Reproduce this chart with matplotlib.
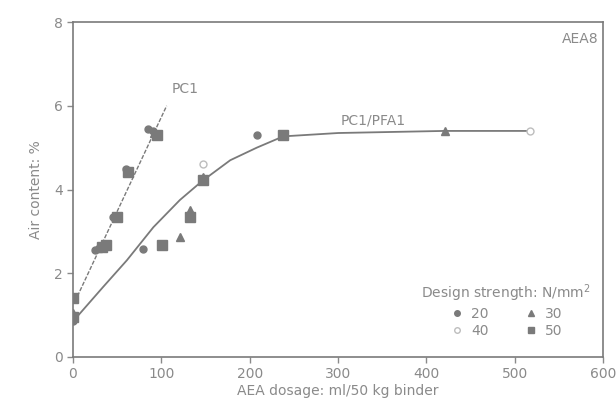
import matplotlib
matplotlib.use("Agg")
import matplotlib.pyplot as plt
from matplotlib.lines import Line2D

# ---- data ----
# PC1 series points (x: AEA dosage ml/50kg, y: air content %)
pc1_s20_x = [0, 25, 30, 45, 60, 85, 90]
pc1_s20_y = [0.85, 2.55, 2.6, 3.35, 4.5, 5.45, 5.4]
pc1_s30_x = [0, 28, 92]
pc1_s30_y = [1.05, 2.6, 5.35]
pc1_s50_x = [0, 33, 37, 50, 62, 95]
pc1_s50_y = [1.4, 2.62, 2.68, 3.35, 4.42, 5.3]
pc1_fit_x = [5, 106]
pc1_fit_y = [1.45, 6.0]

# PC1/PFA1 series points
pfa_s20_x = [0, 79, 208]
pfa_s20_y = [0.9, 2.58, 5.3]
pfa_s30_x = [121, 133, 147, 421]
pfa_s30_y = [2.86, 3.5, 4.3, 5.4]
pfa_s40_x = [147, 517]
pfa_s40_y = [4.6, 5.4]
pfa_s50_x = [0, 101, 133, 147, 238]
pfa_s50_y = [0.95, 2.67, 3.35, 4.22, 5.3]
pfa_fit_x = [0, 34, 61, 91, 121, 146, 178, 208, 238, 300, 420, 520]
pfa_fit_y = [0.85, 1.67, 2.31, 3.1, 3.75, 4.2, 4.7, 5.0, 5.27, 5.35, 5.4, 5.4]

x_ticks = [0, 100, 200, 300, 400, 500, 600]
y_ticks = [0, 2, 4, 6, 8]

legend_labels = ["20", "30", "40", "50"]

# ---- style ----
grey = "#7a7a7a"
light = "#bdbdbd"
txt = "#8a8a8a"

fig = plt.figure(figsize=(6.16, 4.17), dpi=100)
ax = fig.add_axes([0.1185, 0.144, 0.8605, 0.803])

ax.plot(pc1_fit_x, pc1_fit_y, color=grey, lw=1.0, ls=(0, (3, 1.2)), zorder=2)
ax.plot(pfa_fit_x, pfa_fit_y, color=grey, lw=1.3, zorder=2)

ms = dict(color=grey, ls="none", zorder=3)
ax.plot(pc1_s20_x, pc1_s20_y, marker="o", ms=5, **ms)
ax.plot(pc1_s30_x, pc1_s30_y, marker="^", ms=6, **ms)
ax.plot(pc1_s50_x, pc1_s50_y, marker="s", ms=6.5, **ms)
ax.plot(pfa_s20_x, pfa_s20_y, marker="o", ms=5, **ms)
ax.plot(pfa_s30_x, pfa_s30_y, marker="^", ms=6, **ms)
ax.plot(pfa_s50_x, pfa_s50_y, marker="s", ms=6.5, **ms)
ax.plot(pfa_s40_x, pfa_s40_y, marker="o", ms=5, ls="none", mfc="white",
        mec=light, mew=1.0, zorder=3)

ax.set_xlim(0, 600)
ax.set_ylim(0, 8)
ax.set_xticks(x_ticks)
ax.set_yticks(y_ticks)
ax.tick_params(colors=txt, labelsize=10, length=4, width=1, direction="out")
for sp in ax.spines.values():
    sp.set_color(grey)
    sp.set_linewidth(1.2)

ax.set_xlabel("AEA dosage: ml/50 kg binder", color=txt, fontsize=10, labelpad=2)
ax.set_ylabel("Air content: %", color=txt, fontsize=10, labelpad=8)

ax.text(112, 6.3, "PC1", color=txt, fontsize=10)
ax.text(303, 5.55, "PC1/PFA1", color=txt, fontsize=10)
ax.text(595, 7.5, "AEA8", color=txt, fontsize=10, ha="right")

handles = [
    Line2D([], [], marker="o", ms=4, color=grey, ls="none"),
    Line2D([], [], marker="^", ms=5, color=grey, ls="none"),
    Line2D([], [], marker="o", ms=4, ls="none", mfc="white", mec=light),
    Line2D([], [], marker="s", ms=5, color=grey, ls="none"),
]
# order so that columns read: 20,40 | 30,50
order = [0, 2, 1, 3]
leg = ax.legend([handles[i] for i in order], [legend_labels[i] for i in order],
                ncol=2, loc="lower right", bbox_to_anchor=(1.0, 0.02),
                title="Design strength: N/mm$^2$", frameon=False, fontsize=10,
                handletextpad=0.4, columnspacing=2.5, labelspacing=0.2,
                handlelength=1.2)
leg.get_title().set_color(txt)
leg.get_title().set_fontsize(10)
for t in leg.get_texts():
    t.set_color(txt)

fig.savefig("out.png", dpi=100)
